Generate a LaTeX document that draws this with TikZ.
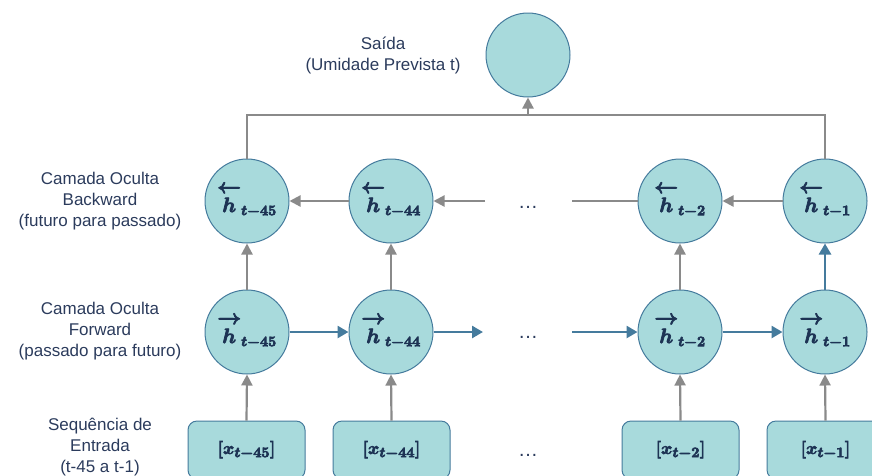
\documentclass[tikz,border=0pt]{standalone}
\usepackage{fontspec}
\setmainfont{Liberation Sans}
\usepackage{amsmath}
\usetikzlibrary{arrows.meta}
\definecolor{cfill}{HTML}{A8DADC}
\definecolor{cborder}{HTML}{457B9D}
\definecolor{cgrey}{HTML}{8A8A8A}
\definecolor{ctext}{HTML}{2B3B5C}
\definecolor{cmath}{HTML}{1D3354}
\newcommand{\heavy}[1]{\special{pdf:literal direct 2 Tr 0.7 w}#1\special{pdf:literal direct 0 Tr}}
\newcommand{\hb}{\overleftarrow{h\rule{0pt}{19pt}}}
\newcommand{\hf}{\overrightarrow{h\rule{0pt}{19pt}}}
\begin{document}
\begin{tikzpicture}[x=1pt,y=-1pt,
  cell/.style={circle,draw=cborder,fill=cfill,line width=1pt,minimum size=84pt,inner sep=0pt,text=cmath,font=\fontsize{22}{24}\selectfont\boldmath},
  inbox/.style={rectangle,rounded corners=9pt,draw=cborder,fill=cfill,line width=1pt,minimum width=117pt,minimum height=58pt,inner sep=0pt,text=cmath,font=\fontsize{19}{22}\selectfont\boldmath},
  lbl/.style={align=center,text=ctext,font=\fontsize{17}{21}\selectfont},
  garrow/.style={draw=cgrey,line width=2.2pt,-{Triangle[length=11pt,width=11pt]}},
  barrow/.style={draw=cborder,line width=2.6pt,-{Triangle[length=11pt,width=12pt]}},
  gline/.style={draw=cgrey,line width=2.2pt},
  dots/.style={text=ctext,font=\fontsize{20}{22}\selectfont}]
\useasboundingbox (0,0) rectangle (872,475);
% output
\node[cell] (o) at (528,55) {};
\node[lbl] (olbl) at (383,55) {Saída\\(Umidade Prevista t)};
% backward row
\node[cell] (b1) at (247,201) {\heavy{$\hb_{t-45}$}};
\node[cell] (b2) at (391,201) {\heavy{$\hb_{t-44}$}};
\node[cell] (b3) at (680,201) {\heavy{$\hb_{t-2}$}};
\node[cell] (b4) at (825,201) {\heavy{$\hb_{t-1}$}};
% forward row
\node[cell] (f1) at (247,332) {\heavy{$\hf_{t-45}$}};
\node[cell] (f2) at (391,332) {\heavy{$\hf_{t-44}$}};
\node[cell] (f3) at (680,332) {\heavy{$\hf_{t-2}$}};
\node[cell] (f4) at (825,332) {\heavy{$\hf_{t-1}$}};
% inputs
\node[inbox] (x1) at (246.5,450) {\heavy{$[x_{t-45}]$}};
\node[inbox] (x2) at (391.5,450) {\heavy{$[x_{t-44}]$}};
\node[inbox] (x3) at (680.5,450) {\heavy{$[x_{t-2}]$}};
\node[inbox] (x4) at (825.5,450) {\heavy{$[x_{t-1}]$}};
% dots
\node[dots] (d1) at (528,207) {\dots};
\node[dots] (d2) at (528,337) {\dots};
\node[dots] (d3) at (528,455) {\dots};
% labels
\node[lbl] (lb) at (100,201) {Camada Oculta\\Backward\\(futuro para passado)};
\node[lbl] (lf) at (100,331) {Camada Oculta\\Forward\\(passado para futuro)};
\node[lbl] (li) at (100,447) {Sequência de\\Entrada\\(t-45 a t-1)};
% coordinates
\coordinate (top) at (528,115);
\coordinate (bs) at (485,201);
\coordinate (be) at (572,201);
\coordinate (fs) at (483,332);
\coordinate (fe) at (572,332);
% top collector
\draw[gline] (b1.north) -- (b1.north |- top) -- (b4.north |- top) -- (b4.north);
\draw[garrow] (top) -- (o.south);
% backward arrows
\draw[garrow] (b2.west) -- (b1.east);
\draw[garrow] (bs) -- (b2.east);
\draw[gline] (be) -- (b3.west);
\draw[garrow] (b4.west) -- (b3.east);
% forward arrows
\draw[barrow] (f1.east) -- (f2.west);
\draw[barrow] (f2.east) -- (fs);
\draw[barrow] (fe) -- (f3.west);
\draw[barrow] (f3.east) -- (f4.west);
% vertical forward->backward
\draw[garrow] (f1.north) -- (b1.south);
\draw[garrow] (f2.north) -- (b2.south);
\draw[garrow] (f3.north) -- (b3.south);
\draw[barrow] (f4.north) -- (b4.south);
% inputs -> forward
\draw[garrow] (x1.north) -- (f1.south);
\draw[garrow] (x2.north) -- (f2.south);
\draw[garrow] (x3.north) -- (f3.south);
\draw[garrow] (x4.north) -- (f4.south);
\end{tikzpicture}
\end{document}
